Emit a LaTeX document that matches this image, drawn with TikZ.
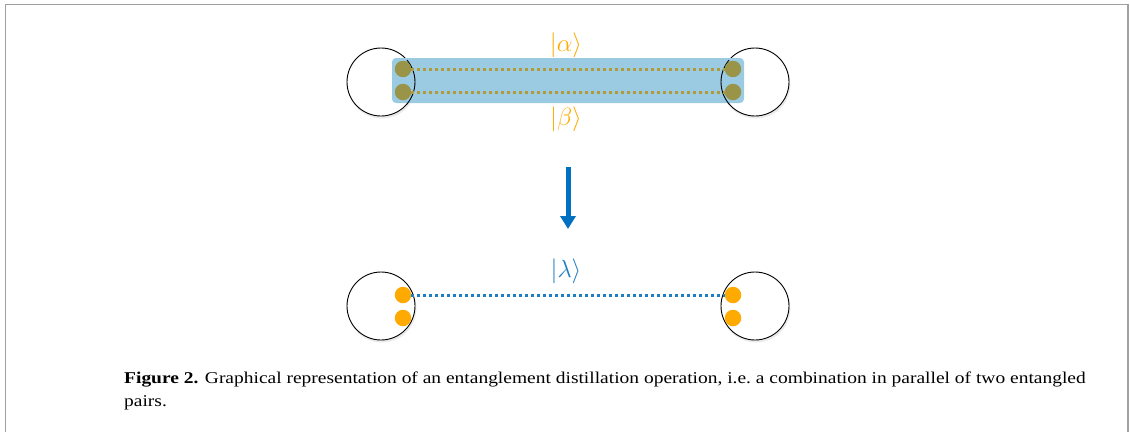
\documentclass[tikz,border=0pt]{standalone}
\usepackage{fontspec}
\setmainfont{Liberation Serif}
\newfontfamily\capfont[FakeStretch=1.18]{Liberation Serif}
\usetikzlibrary{arrows.meta}
\definecolor{frame}{HTML}{A0A0A0}
\definecolor{bandblue}{HTML}{9ACBE3}
\definecolor{olive}{HTML}{9A9448}
\definecolor{olivedot}{HTML}{B09A3A}
\definecolor{qorange}{HTML}{FFAA00}
\definecolor{qblue}{HTML}{0070C0}
\definecolor{lblue}{HTML}{1F7EC2}
\begin{document}
\begin{tikzpicture}[x=1pt,y=-1pt,
  site/.style={circle,draw=black,line width=0.9pt,minimum size=68pt,inner sep=0pt},
  shadow/.style={circle,fill=black,opacity=0.08,minimum size=69pt,inner sep=0pt},
  qdot/.style={circle,fill=#1,minimum size=16.5pt,inner sep=0pt},
  link/.style={line width=3pt,dash pattern=on 3pt off 3pt,#1},
  ket/.style={font=\fontsize{23}{27}\selectfont,text=#1,inner sep=0pt}]
\useasboundingbox (0,0) rectangle (1130,432);
% frame
\draw[frame,line width=1.4pt] (5.5,432) -- (5.5,4.5) -- (1128,4.5) -- (1128,432);
% top: shadows and band
\node[shadow] at (382,84) {};
\node[shadow] at (756,84) {};
\node[site,fill=white] (tl) at (381,82) {};
\node[site,fill=white] (tr) at (755,82) {};
\fill[bandblue,rounded corners=4pt] (392,58) rectangle (744,103);
\draw[black,line width=0.9pt] (tl.center) ++(-0.2:34) arc[start angle=-0.2,end angle=40,radius=34];
\draw[black,line width=0.9pt] (tl.center) ++(0.2:34) arc[start angle=0.2,end angle=-40,radius=34];
\draw[black,line width=0.9pt] (tr.center) ++(180:34) arc[start angle=180,end angle=140,radius=34];
\draw[black,line width=0.9pt] (tr.center) ++(180:34) arc[start angle=180,end angle=220,radius=34];
\node[qdot=olive] (a1) at (403,69) {};
\node[qdot=olive] (a2) at (403,92) {};
\node[qdot=olive] (b1) at (733,69) {};
\node[qdot=olive] (b2) at (733,92) {};
\draw[link=olivedot] (a1.east) -- (b1.west);
\draw[link=olivedot] (a2.east) -- (b2.west);
\node[ket=qorange] (alpha) at (566,45) {$|\alpha\rangle$};
\node[ket=qorange] (beta) at (566,119) {$|\beta\rangle$};
% arrow
\coordinate (arrS) at (568,167);
\coordinate (arrE) at (568,229);
\draw[qblue,line width=5pt,-{Triangle[width=15pt,length=13pt]}] (arrS) -- (arrE);
% bottom
\node[shadow] at (382,308) {};
\node[shadow] at (756,308) {};
\node[site,fill=white] (bl) at (381,306) {};
\node[site,fill=white] (br) at (755,306) {};
\node[qdot=qorange] (c1) at (403,295) {};
\node[qdot=qorange] (c2) at (403,318) {};
\node[qdot=qorange] (d1) at (733,295) {};
\node[qdot=qorange] (d2) at (733,318) {};
\draw[link=lblue] (c1.east) -- (d1.west);
\node[ket=lblue] (lambda) at (566,271) {$|\lambda\rangle$};
% caption
\node[anchor=base west,inner sep=0pt,font=\capfont\fontsize{16.5}{23}\selectfont] (cap1) at (124,383)
  {\textbf{Figure 2.} Graphical representation of an entanglement distillation operation, i.e.\ a combination in parallel of two entangled};
\node[anchor=base west,inner sep=0pt,font=\capfont\fontsize{16.5}{23}\selectfont] (cap2) at (124,406) {pairs.};
\end{tikzpicture}
\end{document}
